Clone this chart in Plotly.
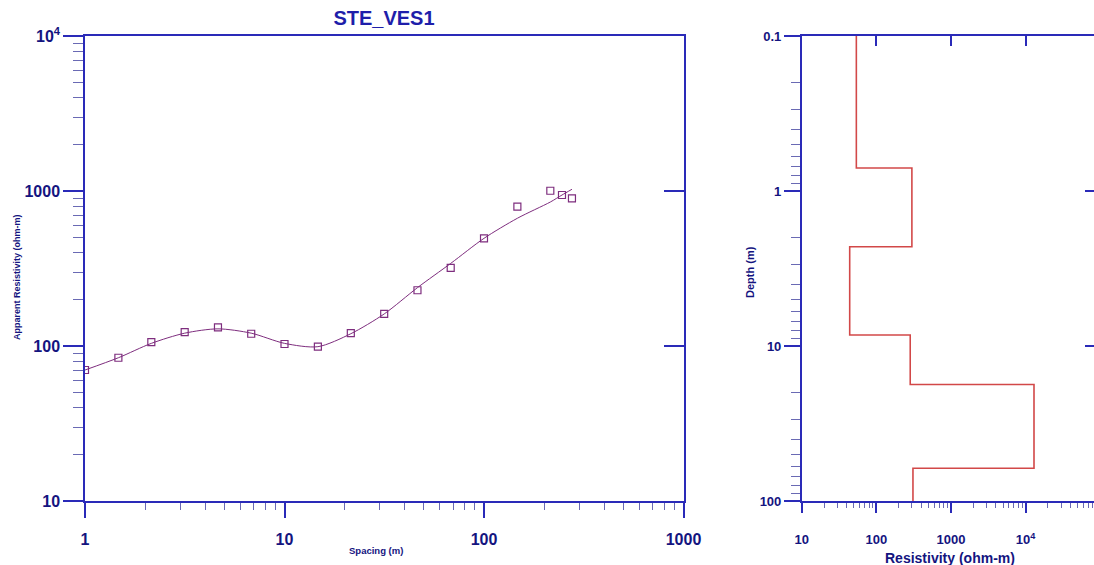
import plotly.graph_objects as go

# ---------------- data ----------------
# Sounding curve (left panel)
spacing = [1, 1.47, 2.15, 3.16, 4.64, 6.81, 10, 14.7, 21.5, 31.6, 46.4, 68.1, 100, 147, 215, 246, 276]
rho_apparent = [70, 84, 106, 123, 132, 120, 103, 99, 121, 161, 229, 319, 495, 792, 1004, 942, 897]

curve_spacing = [1, 1.47, 2.15, 3.16, 4.64, 6.81, 10, 14.7, 21.5, 31.6, 46.4, 68.1, 100, 147, 215, 246, 276]
curve_rho = [70, 84, 104, 121, 129, 121, 104, 99, 120, 161, 238, 341, 495, 667, 849, 942, 1026]

# Layered model (right panel)
layer_resistivity = [54, 300, 44, 285, 13000, 310]
layer_bottom_depth = [0.71, 2.29, 8.5, 17.7, 61.5]
depth_top = 0.1
depth_bottom = 100

# tick labels
left_x_ticks = [1, 10, 100, 1000]
left_x_text = ["1", "10", "100", "1000"]
left_y_ticks = [10, 100, 1000, 10000]
left_y_text = ["10", "100", "1000", "10<sup>4</sup>"]
right_x_ticks = [10, 100, 1000, 10000, 100000]
right_x_text = ["10", "100", "1000", "10<sup>4</sup>", "10<sup>5</sup>"]
right_y_ticks = [0.1, 1, 10, 100]
right_y_text = ["0.1", "1", "10", "100"]

title_text = "STE_VES1"

# ---------------- styling ----------------
VW, VH = 1094, 565          # browser viewport
OFF = 0                     # page body margin (removed below)
W, H = VW - OFF, VH - OFF
FONT = "Liberation Sans"
NAVY = "#14147F"
BLUE = "#2A2AB8"
MINOR = "#6A6AB4"
PURPLE = "#7E2D7E"
RED = "#D24848"


def fx(px):
    return (px - OFF) / W


def fy(py):
    return 1 - (py - OFF) / H


def minor_vals(lo_exp, hi_exp):
    out = []
    for e in range(lo_exp, hi_exp):
        for k in range(2, 10):
            out.append(k * 10 ** e)
    return out


# pixel geometry (viewport pixels) -> paper fractions
lx0, lx1 = fx(85), fx(683.5)
ydom = [fy(501), fy(36)]
rx0 = fx(801.7)
right_decades = (VW - 801.7) / 74.6

# step model arrays
model_x = list(layer_resistivity)
model_y = [depth_top] + list(layer_bottom_depth)
model_x.append(layer_resistivity[-1])
model_y.append(depth_bottom)

fig = go.Figure()

fig.add_trace(go.Scatter(
    x=curve_spacing, y=curve_rho, mode="lines",
    line=dict(color=PURPLE, width=1, shape="spline", smoothing=0.8),
    xaxis="x", yaxis="y", hoverinfo="skip", showlegend=False))
fig.add_trace(go.Scatter(
    x=spacing, y=rho_apparent, mode="markers",
    marker=dict(symbol="square-open", size=7, color=PURPLE, line=dict(width=1.2, color=PURPLE)),
    xaxis="x", yaxis="y", showlegend=False))

fig.add_trace(go.Scatter(
    x=model_x, y=model_y, mode="lines",
    line=dict(color=RED, width=1.6, shape="vh"),
    xaxis="x2", yaxis="y2", showlegend=False))

# empty traces to attach the overlay tick axes
fig.add_trace(go.Scatter(x=[], y=[], xaxis="x", yaxis="y3", showlegend=False, hoverinfo="skip"))
fig.add_trace(go.Scatter(x=[], y=[], xaxis="x4", yaxis="y2", showlegend=False, hoverinfo="skip"))
fig.add_trace(go.Scatter(x=[], y=[], xaxis="x2", yaxis="y4", showlegend=False, hoverinfo="skip"))

tickfont_big = dict(family=FONT, size=16, color=NAVY, weight="bold")
tickfont_small = dict(family=FONT, size=13, color=NAVY, weight="bold")

common = dict(type="log", showgrid=False, zeroline=False, linecolor=BLUE, linewidth=1.5,
              tickcolor=BLUE, tickwidth=1.5, tickmode="array", automargin=False)

fig.update_layout(
    width=W, height=H,
    margin=dict(l=0, r=0, t=0, b=0, autoexpand=False),
    paper_bgcolor="white", plot_bgcolor="white",
    title=dict(text=title_text, x=fx(384), xanchor="center", y=fy(18), yanchor="middle",
               font=dict(family=FONT, size=20, color="#1E1EAA", weight="bold")),
    xaxis=dict(**common, domain=[lx0, lx1], anchor="y", range=[0, 3],
               showline=True, mirror=True, ticks="outside", ticklen=15,
               tickvals=left_x_ticks, ticktext=left_x_text, tickfont=tickfont_big,
               ticklabelstandoff=8,
               minor=dict(ticks="outside", ticklen=7, tickcolor=MINOR, tickwidth=1.2,
                          tickvals=minor_vals(0, 3))),
    yaxis=dict(**common, domain=ydom, anchor="x", range=[1, 4],
               showline=True, mirror=True, ticks="outside", ticklen=20,
               tickvals=left_y_ticks, ticktext=left_y_text, tickfont=tickfont_big,
               minor=dict(ticks="outside", ticklen=10, tickcolor=MINOR, tickwidth=1.2,
                          tickvals=minor_vals(1, 4))),
    yaxis3=dict(type="log", overlaying="y", side="right", anchor="x", range=[1, 4],
                showgrid=False, zeroline=False, showline=False, showticklabels=False,
                ticks="inside", ticklen=20, tickcolor=BLUE, tickwidth=1.5, automargin=False,
                tickmode="array", tickvals=[100, 1000]),
    xaxis2=dict(**common, domain=[rx0, 1.0], anchor="y2", range=[1, 1 + right_decades],
                showline=True, mirror=True, ticks="outside", ticklen=10,
                tickvals=right_x_ticks, ticktext=right_x_text, tickfont=tickfont_small,
                ticklabelstandoff=16,
                minor=dict(ticks="outside", ticklen=5, tickcolor=MINOR, tickwidth=1.2,
                           tickvals=minor_vals(1, 5))),
    yaxis2=dict(**common, domain=ydom, anchor="x2", range=[2, -1],
                showline=True, mirror=False, ticks="outside", ticklen=16,
                tickvals=right_y_ticks, ticktext=right_y_text, tickfont=tickfont_small,
                minor=dict(ticks="outside", ticklen=9, tickcolor=MINOR, tickwidth=1.2,
                           tickvals=minor_vals(-1, 2))),
    xaxis4=dict(type="log", overlaying="x2", side="top", anchor="y2", range=[1, 1 + right_decades],
                showgrid=False, zeroline=False, showline=False, showticklabels=False,
                ticks="inside", ticklen=10, tickcolor=BLUE, tickwidth=1.5, automargin=False,
                tickmode="array", tickvals=[100, 1000, 10000]),
    yaxis4=dict(type="log", overlaying="y2", side="right", anchor="x2", range=[2, -1],
                showgrid=False, zeroline=False, showline=False, showticklabels=False,
                ticks="inside", ticklen=9, tickcolor=BLUE, tickwidth=1.5, automargin=False,
                tickmode="array", tickvals=[1, 10]),
)

ann_font = lambda s: dict(family=FONT, size=s, color=NAVY, weight="bold")
fig.add_annotation(text="Spacing (m)", xref="paper", yref="paper", x=fx(376), y=fy(550),
                   showarrow=False, font=ann_font(9.5), xanchor="center", yanchor="middle")
fig.add_annotation(text="Apparent Resistivity (ohm-m)", xref="paper", yref="paper",
                   x=fx(17), y=fy(277), textangle=-90,
                   showarrow=False, font=ann_font(9), xanchor="center", yanchor="middle")
fig.add_annotation(text="Depth (m)", xref="paper", yref="paper", x=fx(750), y=fy(272),
                   textangle=-90, showarrow=False, font=ann_font(11),
                   xanchor="center", yanchor="middle")
fig.add_annotation(text="Resistivity (ohm-m)", xref="paper", yref="paper", x=fx(950), y=fy(558),
                   showarrow=False, font=ann_font(14), xanchor="center", yanchor="middle")

fig.write_html(
    "out.html",
    config={"displayModeBar": False},
    post_script="document.body.style.margin='0';document.body.style.overflow='hidden';",
)
